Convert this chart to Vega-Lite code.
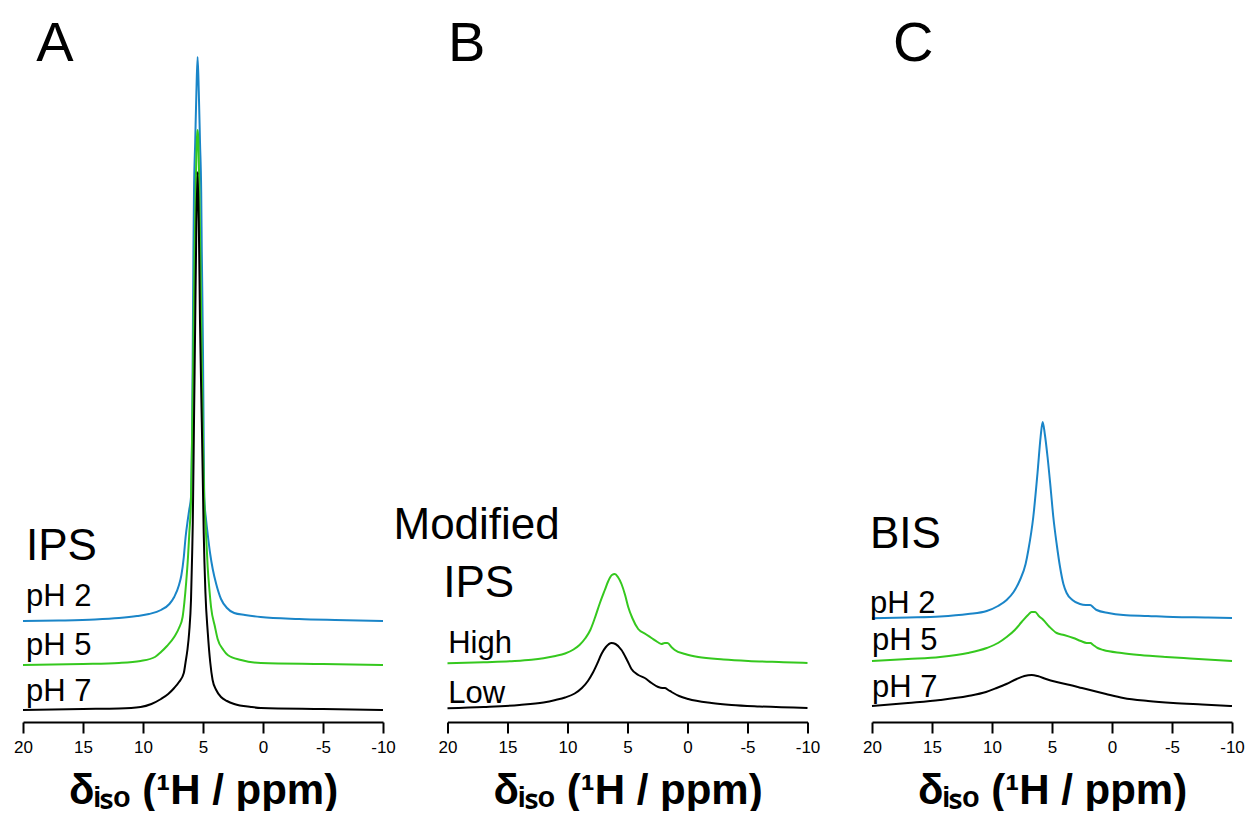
{
  "$schema": "https://vega.github.io/schema/vega-lite/v6.json",
  "background": "white",
  "padding": {"left": 13, "top": 0, "right": 5, "bottom": 0},
  "bounds": "flush",
  "spacing": 64.5,
  "config": {"view": {"stroke": null}},
  "datasets": {
    "spectra": [
      {"panel":"A","series":"pH 2","ppm":20,"intensity":101},{"panel":"A","series":"pH 2","ppm":17,"intensity":101.5},{"panel":"A","series":"pH 2","ppm":14,"intensity":102.5},{"panel":"A","series":"pH 2","ppm":12,"intensity":104},{"panel":"A","series":"pH 2","ppm":10.5,"intensity":106},{"panel":"A","series":"pH 2","ppm":9.5,"intensity":108},{"panel":"A","series":"pH 2","ppm":8.5,"intensity":112},{"panel":"A","series":"pH 2","ppm":7.8,"intensity":118},{"panel":"A","series":"pH 2","ppm":7.4,"intensity":125},{"panel":"A","series":"pH 2","ppm":7.0,"intensity":137},{"panel":"A","series":"pH 2","ppm":6.8,"intensity":147},{"panel":"A","series":"pH 2","ppm":6.6,"intensity":165},{"panel":"A","series":"pH 2","ppm":6.45,"intensity":185},{"panel":"A","series":"pH 2","ppm":6.27,"intensity":202},{"panel":"A","series":"pH 2","ppm":6.15,"intensity":212},{"panel":"A","series":"pH 2","ppm":6.0,"intensity":225},{"panel":"A","series":"pH 2","ppm":5.9,"intensity":300},{"panel":"A","series":"pH 2","ppm":5.85,"intensity":380},{"panel":"A","series":"pH 2","ppm":5.8,"intensity":470},{"panel":"A","series":"pH 2","ppm":5.75,"intensity":530},{"panel":"A","series":"pH 2","ppm":5.65,"intensity":580},{"panel":"A","series":"pH 2","ppm":5.55,"intensity":630},{"panel":"A","series":"pH 2","ppm":5.45,"intensity":665},{"panel":"A","series":"pH 2","ppm":5.35,"intensity":630},{"panel":"A","series":"pH 2","ppm":5.25,"intensity":580},{"panel":"A","series":"pH 2","ppm":5.15,"intensity":530},{"panel":"A","series":"pH 2","ppm":5.1,"intensity":470},{"panel":"A","series":"pH 2","ppm":5.0,"intensity":370},{"panel":"A","series":"pH 2","ppm":4.95,"intensity":290},{"panel":"A","series":"pH 2","ppm":4.9,"intensity":225},{"panel":"A","series":"pH 2","ppm":4.75,"intensity":203},{"panel":"A","series":"pH 2","ppm":4.6,"intensity":187},{"panel":"A","series":"pH 2","ppm":4.4,"intensity":168},{"panel":"A","series":"pH 2","ppm":4.19,"intensity":153},{"panel":"A","series":"pH 2","ppm":3.9,"intensity":138},{"panel":"A","series":"pH 2","ppm":3.5,"intensity":123},{"panel":"A","series":"pH 2","ppm":3.0,"intensity":114},{"panel":"A","series":"pH 2","ppm":2.4,"intensity":109},{"panel":"A","series":"pH 2","ppm":1.5,"intensity":107},{"panel":"A","series":"pH 2","ppm":0.2,"intensity":105},{"panel":"A","series":"pH 2","ppm":-3,"intensity":103},{"panel":"A","series":"pH 2","ppm":-6,"intensity":102},{"panel":"A","series":"pH 2","ppm":-10,"intensity":101},
      {"panel":"A","series":"pH 5","ppm":20,"intensity":57},{"panel":"A","series":"pH 5","ppm":15,"intensity":58},{"panel":"A","series":"pH 5","ppm":12,"intensity":59},{"panel":"A","series":"pH 5","ppm":10.2,"intensity":61},{"panel":"A","series":"pH 5","ppm":9,"intensity":65},{"panel":"A","series":"pH 5","ppm":8.5,"intensity":70},{"panel":"A","series":"pH 5","ppm":8.0,"intensity":76},{"panel":"A","series":"pH 5","ppm":7.4,"intensity":85},{"panel":"A","series":"pH 5","ppm":7.0,"intensity":94},{"panel":"A","series":"pH 5","ppm":6.7,"intensity":105},{"panel":"A","series":"pH 5","ppm":6.55,"intensity":120},{"panel":"A","series":"pH 5","ppm":6.4,"intensity":140},{"panel":"A","series":"pH 5","ppm":6.25,"intensity":165},{"panel":"A","series":"pH 5","ppm":6.14,"intensity":189},{"panel":"A","series":"pH 5","ppm":6.0,"intensity":222},{"panel":"A","series":"pH 5","ppm":5.9,"intensity":290},{"panel":"A","series":"pH 5","ppm":5.8,"intensity":380},{"panel":"A","series":"pH 5","ppm":5.7,"intensity":470},{"panel":"A","series":"pH 5","ppm":5.6,"intensity":540},{"panel":"A","series":"pH 5","ppm":5.5,"intensity":585},{"panel":"A","series":"pH 5","ppm":5.45,"intensity":592},{"panel":"A","series":"pH 5","ppm":5.4,"intensity":585},{"panel":"A","series":"pH 5","ppm":5.3,"intensity":530},{"panel":"A","series":"pH 5","ppm":5.2,"intensity":450},{"panel":"A","series":"pH 5","ppm":5.1,"intensity":360},{"panel":"A","series":"pH 5","ppm":5.0,"intensity":280},{"panel":"A","series":"pH 5","ppm":4.9,"intensity":225},{"panel":"A","series":"pH 5","ppm":4.75,"intensity":189},{"panel":"A","series":"pH 5","ppm":4.61,"intensity":155},{"panel":"A","series":"pH 5","ppm":4.45,"intensity":130},{"panel":"A","series":"pH 5","ppm":4.33,"intensity":115},{"panel":"A","series":"pH 5","ppm":4.0,"intensity":95},{"panel":"A","series":"pH 5","ppm":3.78,"intensity":83},{"panel":"A","series":"pH 5","ppm":3.3,"intensity":72},{"panel":"A","series":"pH 5","ppm":2.94,"intensity":67},{"panel":"A","series":"pH 5","ppm":1.83,"intensity":62},{"panel":"A","series":"pH 5","ppm":0.17,"intensity":59},{"panel":"A","series":"pH 5","ppm":-5,"intensity":58},{"panel":"A","series":"pH 5","ppm":-10,"intensity":57},
      {"panel":"A","series":"pH 7","ppm":20,"intensity":12},{"panel":"A","series":"pH 7","ppm":15,"intensity":13},{"panel":"A","series":"pH 7","ppm":12,"intensity":13.5},{"panel":"A","series":"pH 7","ppm":10.2,"intensity":15},{"panel":"A","series":"pH 7","ppm":9.3,"intensity":18},{"panel":"A","series":"pH 7","ppm":8.5,"intensity":23},{"panel":"A","series":"pH 7","ppm":7.9,"intensity":28},{"panel":"A","series":"pH 7","ppm":7.4,"intensity":34},{"panel":"A","series":"pH 7","ppm":7.0,"intensity":40},{"panel":"A","series":"pH 7","ppm":6.6,"intensity":49},{"panel":"A","series":"pH 7","ppm":6.45,"intensity":60},{"panel":"A","series":"pH 7","ppm":6.3,"intensity":72},{"panel":"A","series":"pH 7","ppm":6.15,"intensity":90},{"panel":"A","series":"pH 7","ppm":6.0,"intensity":122},{"panel":"A","series":"pH 7","ppm":5.9,"intensity":170},{"panel":"A","series":"pH 7","ppm":5.85,"intensity":200},{"panel":"A","series":"pH 7","ppm":5.75,"intensity":300},{"panel":"A","series":"pH 7","ppm":5.65,"intensity":400},{"panel":"A","series":"pH 7","ppm":5.55,"intensity":500},{"panel":"A","series":"pH 7","ppm":5.45,"intensity":550},{"panel":"A","series":"pH 7","ppm":5.35,"intensity":500},{"panel":"A","series":"pH 7","ppm":5.25,"intensity":400},{"panel":"A","series":"pH 7","ppm":5.1,"intensity":300},{"panel":"A","series":"pH 7","ppm":5.0,"intensity":230},{"panel":"A","series":"pH 7","ppm":4.94,"intensity":189},{"panel":"A","series":"pH 7","ppm":4.8,"intensity":130},{"panel":"A","series":"pH 7","ppm":4.6,"intensity":89},{"panel":"A","series":"pH 7","ppm":4.4,"intensity":60},{"panel":"A","series":"pH 7","ppm":4.2,"intensity":42},{"panel":"A","series":"pH 7","ppm":3.9,"intensity":32},{"panel":"A","series":"pH 7","ppm":3.5,"intensity":25},{"panel":"A","series":"pH 7","ppm":3.0,"intensity":21},{"panel":"A","series":"pH 7","ppm":2.4,"intensity":18},{"panel":"A","series":"pH 7","ppm":1.0,"intensity":15},{"panel":"A","series":"pH 7","ppm":0.17,"intensity":14},{"panel":"A","series":"pH 7","ppm":-5,"intensity":13},{"panel":"A","series":"pH 7","ppm":-10,"intensity":12},
      {"panel":"B","series":"High","ppm":20,"intensity":58.7},{"panel":"B","series":"High","ppm":17,"intensity":59.8},{"panel":"B","series":"High","ppm":14.4,"intensity":61},{"panel":"B","series":"High","ppm":13,"intensity":62.3},{"panel":"B","series":"High","ppm":12,"intensity":63.8},{"panel":"B","series":"High","ppm":11,"intensity":66},{"panel":"B","series":"High","ppm":10.2,"intensity":68.5},{"panel":"B","series":"High","ppm":9.5,"intensity":72.5},{"panel":"B","series":"High","ppm":9.0,"intensity":77},{"panel":"B","series":"High","ppm":8.5,"intensity":84},{"panel":"B","series":"High","ppm":8.1,"intensity":92},{"panel":"B","series":"High","ppm":7.72,"intensity":104},{"panel":"B","series":"High","ppm":7.3,"intensity":119},{"panel":"B","series":"High","ppm":6.89,"intensity":132},{"panel":"B","series":"High","ppm":6.6,"intensity":141},{"panel":"B","series":"High","ppm":6.3,"intensity":147},{"panel":"B","series":"High","ppm":6.06,"intensity":148},{"panel":"B","series":"High","ppm":5.8,"intensity":145},{"panel":"B","series":"High","ppm":5.5,"intensity":138},{"panel":"B","series":"High","ppm":5.2,"intensity":127},{"panel":"B","series":"High","ppm":4.94,"intensity":115},{"panel":"B","series":"High","ppm":4.6,"intensity":104},{"panel":"B","series":"High","ppm":4.11,"intensity":93},{"panel":"B","series":"High","ppm":3.5,"intensity":88},{"panel":"B","series":"High","ppm":3.0,"intensity":84},{"panel":"B","series":"High","ppm":2.5,"intensity":80},{"panel":"B","series":"High","ppm":2.17,"intensity":78},{"panel":"B","series":"High","ppm":1.9,"intensity":79},{"panel":"B","series":"High","ppm":1.67,"intensity":79},{"panel":"B","series":"High","ppm":1.3,"intensity":74.5},{"panel":"B","series":"High","ppm":1.06,"intensity":72},{"panel":"B","series":"High","ppm":0.2,"intensity":68},{"panel":"B","series":"High","ppm":-0.89,"intensity":65},{"panel":"B","series":"High","ppm":-3,"intensity":62.5},{"panel":"B","series":"High","ppm":-5.06,"intensity":61},{"panel":"B","series":"High","ppm":-8,"intensity":59.8},{"panel":"B","series":"High","ppm":-10,"intensity":59},
      {"panel":"B","series":"Low","ppm":20,"intensity":13.7},{"panel":"B","series":"Low","ppm":17,"intensity":15},{"panel":"B","series":"Low","ppm":14,"intensity":17},{"panel":"B","series":"Low","ppm":12,"intensity":19.5},{"panel":"B","series":"Low","ppm":11,"intensity":22},{"panel":"B","series":"Low","ppm":10.2,"intensity":24.5},{"panel":"B","series":"Low","ppm":9.4,"intensity":28.5},{"panel":"B","series":"Low","ppm":8.8,"intensity":34},{"panel":"B","series":"Low","ppm":8.3,"intensity":41},{"panel":"B","series":"Low","ppm":7.9,"intensity":49},{"panel":"B","series":"Low","ppm":7.5,"intensity":59},{"panel":"B","series":"Low","ppm":7.17,"intensity":68},{"panel":"B","series":"Low","ppm":6.8,"intensity":75},{"panel":"B","series":"Low","ppm":6.33,"intensity":79},{"panel":"B","series":"Low","ppm":6.0,"intensity":78},{"panel":"B","series":"Low","ppm":5.5,"intensity":72},{"panel":"B","series":"Low","ppm":5.0,"intensity":61},{"panel":"B","series":"Low","ppm":4.67,"intensity":53},{"panel":"B","series":"Low","ppm":4.1,"intensity":47},{"panel":"B","series":"Low","ppm":3.56,"intensity":44},{"panel":"B","series":"Low","ppm":3.0,"intensity":39},{"panel":"B","series":"Low","ppm":2.44,"intensity":35},{"panel":"B","series":"Low","ppm":2.1,"intensity":34},{"panel":"B","series":"Low","ppm":1.89,"intensity":34},{"panel":"B","series":"Low","ppm":1.6,"intensity":32},{"panel":"B","series":"Low","ppm":1.33,"intensity":30},{"panel":"B","series":"Low","ppm":0.7,"intensity":26},{"panel":"B","series":"Low","ppm":-0.06,"intensity":23},{"panel":"B","series":"Low","ppm":-2,"intensity":19},{"panel":"B","series":"Low","ppm":-3.67,"intensity":17},{"panel":"B","series":"Low","ppm":-6,"intensity":15.5},{"panel":"B","series":"Low","ppm":-10,"intensity":14},
      {"panel":"C","series":"pH 2","ppm":20,"intensity":103.7},{"panel":"C","series":"pH 2","ppm":17,"intensity":104.5},{"panel":"C","series":"pH 2","ppm":14.33,"intensity":105.5},{"panel":"C","series":"pH 2","ppm":12,"intensity":108},{"panel":"C","series":"pH 2","ppm":10.44,"intensity":111},{"panel":"C","series":"pH 2","ppm":9.5,"intensity":116},{"panel":"C","series":"pH 2","ppm":8.78,"intensity":122},{"panel":"C","series":"pH 2","ppm":8.2,"intensity":130},{"panel":"C","series":"pH 2","ppm":7.67,"intensity":142},{"panel":"C","series":"pH 2","ppm":7.2,"intensity":158},{"panel":"C","series":"pH 2","ppm":6.97,"intensity":172},{"panel":"C","series":"pH 2","ppm":6.56,"intensity":205},{"panel":"C","series":"pH 2","ppm":6.2,"intensity":250},{"panel":"C","series":"pH 2","ppm":5.95,"intensity":285},{"panel":"C","series":"pH 2","ppm":5.78,"intensity":300},{"panel":"C","series":"pH 2","ppm":5.6,"intensity":288},{"panel":"C","series":"pH 2","ppm":5.37,"intensity":265},{"panel":"C","series":"pH 2","ppm":5.1,"intensity":232},{"panel":"C","series":"pH 2","ppm":4.89,"intensity":205},{"panel":"C","series":"pH 2","ppm":4.6,"intensity":177},{"panel":"C","series":"pH 2","ppm":4.33,"intensity":155},{"panel":"C","series":"pH 2","ppm":4.05,"intensity":138},{"panel":"C","series":"pH 2","ppm":3.78,"intensity":129},{"panel":"C","series":"pH 2","ppm":3.3,"intensity":122},{"panel":"C","series":"pH 2","ppm":2.67,"intensity":118},{"panel":"C","series":"pH 2","ppm":2.2,"intensity":117},{"panel":"C","series":"pH 2","ppm":1.83,"intensity":117},{"panel":"C","series":"pH 2","ppm":1.5,"intensity":114},{"panel":"C","series":"pH 2","ppm":1.28,"intensity":112},{"panel":"C","series":"pH 2","ppm":0.3,"intensity":109},{"panel":"C","series":"pH 2","ppm":-0.94,"intensity":107},{"panel":"C","series":"pH 2","ppm":-3,"intensity":106},{"panel":"C","series":"pH 2","ppm":-5.1,"intensity":105},{"panel":"C","series":"pH 2","ppm":-8,"intensity":104.5},{"panel":"C","series":"pH 2","ppm":-10,"intensity":104},
      {"panel":"C","series":"pH 5","ppm":20,"intensity":61},{"panel":"C","series":"pH 5","ppm":17,"intensity":63},{"panel":"C","series":"pH 5","ppm":14.33,"intensity":65},{"panel":"C","series":"pH 5","ppm":12,"intensity":69},{"panel":"C","series":"pH 5","ppm":10.44,"intensity":74},{"panel":"C","series":"pH 5","ppm":9.5,"intensity":79},{"panel":"C","series":"pH 5","ppm":8.78,"intensity":85},{"panel":"C","series":"pH 5","ppm":8.1,"intensity":92},{"panel":"C","series":"pH 5","ppm":7.53,"intensity":100},{"panel":"C","series":"pH 5","ppm":7.0,"intensity":107},{"panel":"C","series":"pH 5","ppm":6.7,"intensity":110},{"panel":"C","series":"pH 5","ppm":6.4,"intensity":110},{"panel":"C","series":"pH 5","ppm":6.1,"intensity":106},{"panel":"C","series":"pH 5","ppm":5.72,"intensity":102},{"panel":"C","series":"pH 5","ppm":5.2,"intensity":95},{"panel":"C","series":"pH 5","ppm":4.61,"intensity":89},{"panel":"C","series":"pH 5","ppm":4.0,"intensity":87},{"panel":"C","series":"pH 5","ppm":3.22,"intensity":84},{"panel":"C","series":"pH 5","ppm":2.6,"intensity":81},{"panel":"C","series":"pH 5","ppm":2.11,"intensity":79},{"panel":"C","series":"pH 5","ppm":1.8,"intensity":79},{"panel":"C","series":"pH 5","ppm":1.56,"intensity":77},{"panel":"C","series":"pH 5","ppm":1.2,"intensity":74},{"panel":"C","series":"pH 5","ppm":0.72,"intensity":72},{"panel":"C","series":"pH 5","ppm":-0.8,"intensity":69},{"panel":"C","series":"pH 5","ppm":-2.33,"intensity":67},{"panel":"C","series":"pH 5","ppm":-4.5,"intensity":65},{"panel":"C","series":"pH 5","ppm":-6.5,"intensity":63.5},{"panel":"C","series":"pH 5","ppm":-10,"intensity":61},
      {"panel":"C","series":"pH 7","ppm":20,"intensity":16},{"panel":"C","series":"pH 7","ppm":17,"intensity":19},{"panel":"C","series":"pH 7","ppm":14.33,"intensity":22},{"panel":"C","series":"pH 7","ppm":12,"intensity":26},{"panel":"C","series":"pH 7","ppm":10.5,"intensity":30},{"panel":"C","series":"pH 7","ppm":9.61,"intensity":34},{"panel":"C","series":"pH 7","ppm":8.8,"intensity":38},{"panel":"C","series":"pH 7","ppm":7.94,"intensity":43},{"panel":"C","series":"pH 7","ppm":7.3,"intensity":46},{"panel":"C","series":"pH 7","ppm":6.69,"intensity":47},{"panel":"C","series":"pH 7","ppm":6.2,"intensity":46},{"panel":"C","series":"pH 7","ppm":5.5,"intensity":43},{"panel":"C","series":"pH 7","ppm":4.61,"intensity":40},{"panel":"C","series":"pH 7","ppm":3.5,"intensity":37},{"panel":"C","series":"pH 7","ppm":2.5,"intensity":34},{"panel":"C","series":"pH 7","ppm":1.83,"intensity":32},{"panel":"C","series":"pH 7","ppm":0.5,"intensity":28},{"panel":"C","series":"pH 7","ppm":-0.94,"intensity":24},{"panel":"C","series":"pH 7","ppm":-3,"intensity":21},{"panel":"C","series":"pH 7","ppm":-5.1,"intensity":19},{"panel":"C","series":"pH 7","ppm":-7.5,"intensity":17.5},{"panel":"C","series":"pH 7","ppm":-10,"intensity":16}
    ],
    "labels": [
      {"panel":"A","label":"A","ppm":18.9,"intensity":661,"kind":"letter"},
      {"panel":"A","label":"IPS","ppm":19.75,"intensity":162,"kind":"head"},
      {"panel":"A","label":"pH 2","ppm":19.75,"intensity":116,"kind":"sample"},
      {"panel":"A","label":"pH 5","ppm":19.75,"intensity":67,"kind":"sample"},
      {"panel":"A","label":"pH 7","ppm":19.75,"intensity":21,"kind":"sample"},
      {"panel":"B","label":"B","ppm":19.95,"intensity":661,"kind":"letter"},
      {"panel":"B","label":"Modified","ppm":24.5,"intensity":183,"kind":"head"},
      {"panel":"B","label":"IPS","ppm":20.36,"intensity":125,"kind":"head"},
      {"panel":"B","label":"High","ppm":19.94,"intensity":69,"kind":"sample"},
      {"panel":"B","label":"Low","ppm":19.94,"intensity":19,"kind":"sample"},
      {"panel":"C","label":"C","ppm":18.25,"intensity":661,"kind":"letter"},
      {"panel":"C","label":"BIS","ppm":20.17,"intensity":174,"kind":"head"},
      {"panel":"C","label":"pH 2","ppm":20.17,"intensity":109,"kind":"sample"},
      {"panel":"C","label":"pH 5","ppm":20.0,"intensity":72,"kind":"sample"},
      {"panel":"C","label":"pH 7","ppm":20.0,"intensity":25,"kind":"sample"}
    ]
  },
  "hconcat": [
    {
      "width": 360, "height": 722,
      "layer": [
        {
          "data": {"name": "spectra"},
          "transform": [{"filter": "datum.panel === 'A'"}],
          "mark": {"type": "line", "strokeWidth": 2, "interpolate": "monotone"},
          "encoding": {
            "x": {"field": "ppm", "type": "quantitative", "scale": {"domain": [-10, 20], "reverse": true, "nice": false, "zero": false},
              "axis": {"values": [20,17.5,15,12.5,10,7.5,5,2.5,0,-2.5,-5,-7.5,-10], "labelExpr": "datum.value % 5 === 0 ? '' + datum.value : ''", "labelOverlap": false, "labelFlush": false, "grid": false,
                "tickSize": {"condition": {"test": "datum.value % 5 === 0", "value": 11}, "value": 6},
                "domainColor": "#000", "domainWidth": 2, "tickColor": "#000", "tickWidth": 2,
                "labelFont": "Liberation Sans", "labelFontSize": 17, "labelColor": "#000", "labelPadding": 6,
                "title": "δᵢₛₒ (¹H / ppm)", "titleFont": "Liberation Sans", "titleFontSize": 42, "titleFontWeight": "bold", "titleColor": "#000", "titlePadding": 15}},
            "y": {"field": "intensity", "type": "quantitative", "scale": {"domain": [0, 722], "nice": false, "zero": false}, "axis": null},
            "color": {"field": "series", "type": "nominal", "scale": {"domain": ["pH 2", "pH 5", "pH 7", "High", "Low"], "range": ["#1a85c8", "#35c81e", "#000000", "#35c81e", "#000000"]}, "legend": null}
          }
        },
        {
          "data": {"name": "labels"},
          "transform": [{"filter": "datum.panel === 'A' && datum.kind === 'letter'"}],
          "mark": {"type": "text", "align": "left", "baseline": "alphabetic", "font": "Liberation Sans", "color": "#000", "fontSize": 56},
          "encoding": {"x": {"field": "ppm", "type": "quantitative"}, "y": {"field": "intensity", "type": "quantitative"}, "text": {"field": "label"}}
        },
        {
          "data": {"name": "labels"},
          "transform": [{"filter": "datum.panel === 'A' && datum.kind === 'head'"}],
          "mark": {"type": "text", "align": "left", "baseline": "alphabetic", "font": "Liberation Sans", "color": "#000", "fontSize": 44},
          "encoding": {"x": {"field": "ppm", "type": "quantitative"}, "y": {"field": "intensity", "type": "quantitative"}, "text": {"field": "label"}}
        },
        {
          "data": {"name": "labels"},
          "transform": [{"filter": "datum.panel === 'A' && datum.kind === 'sample'"}],
          "mark": {"type": "text", "align": "left", "baseline": "alphabetic", "font": "Liberation Sans", "color": "#000", "fontSize": 31},
          "encoding": {"x": {"field": "ppm", "type": "quantitative"}, "y": {"field": "intensity", "type": "quantitative"}, "text": {"field": "label"}}
        }
      ]
    },
    {
      "width": 360, "height": 722,
      "layer": [
        {
          "data": {"name": "spectra"},
          "transform": [{"filter": "datum.panel === 'B'"}],
          "mark": {"type": "line", "strokeWidth": 2, "interpolate": "monotone"},
          "encoding": {
            "x": {"field": "ppm", "type": "quantitative", "scale": {"domain": [-10, 20], "reverse": true, "nice": false, "zero": false},
              "axis": {"values": [20,17.5,15,12.5,10,7.5,5,2.5,0,-2.5,-5,-7.5,-10], "labelExpr": "datum.value % 5 === 0 ? '' + datum.value : ''", "labelOverlap": false, "labelFlush": false, "grid": false,
                "tickSize": {"condition": {"test": "datum.value % 5 === 0", "value": 11}, "value": 6},
                "domainColor": "#000", "domainWidth": 2, "tickColor": "#000", "tickWidth": 2,
                "labelFont": "Liberation Sans", "labelFontSize": 17, "labelColor": "#000", "labelPadding": 6,
                "title": "δᵢₛₒ (¹H / ppm)", "titleFont": "Liberation Sans", "titleFontSize": 42, "titleFontWeight": "bold", "titleColor": "#000", "titlePadding": 15}},
            "y": {"field": "intensity", "type": "quantitative", "scale": {"domain": [0, 722], "nice": false, "zero": false}, "axis": null},
            "color": {"field": "series", "type": "nominal", "scale": {"domain": ["pH 2", "pH 5", "pH 7", "High", "Low"], "range": ["#1a85c8", "#35c81e", "#000000", "#35c81e", "#000000"]}, "legend": null}
          }
        },
        {
          "data": {"name": "labels"},
          "transform": [{"filter": "datum.panel === 'B' && datum.kind === 'letter'"}],
          "mark": {"type": "text", "align": "left", "baseline": "alphabetic", "font": "Liberation Sans", "color": "#000", "fontSize": 56},
          "encoding": {"x": {"field": "ppm", "type": "quantitative"}, "y": {"field": "intensity", "type": "quantitative"}, "text": {"field": "label"}}
        },
        {
          "data": {"name": "labels"},
          "transform": [{"filter": "datum.panel === 'B' && datum.kind === 'head'"}],
          "mark": {"type": "text", "align": "left", "baseline": "alphabetic", "font": "Liberation Sans", "color": "#000", "fontSize": 44},
          "encoding": {"x": {"field": "ppm", "type": "quantitative"}, "y": {"field": "intensity", "type": "quantitative"}, "text": {"field": "label"}}
        },
        {
          "data": {"name": "labels"},
          "transform": [{"filter": "datum.panel === 'B' && datum.kind === 'sample'"}],
          "mark": {"type": "text", "align": "left", "baseline": "alphabetic", "font": "Liberation Sans", "color": "#000", "fontSize": 31},
          "encoding": {"x": {"field": "ppm", "type": "quantitative"}, "y": {"field": "intensity", "type": "quantitative"}, "text": {"field": "label"}}
        }
      ]
    },
    {
      "width": 360, "height": 722,
      "layer": [
        {
          "data": {"name": "spectra"},
          "transform": [{"filter": "datum.panel === 'C'"}],
          "mark": {"type": "line", "strokeWidth": 2, "interpolate": "monotone"},
          "encoding": {
            "x": {"field": "ppm", "type": "quantitative", "scale": {"domain": [-10, 20], "reverse": true, "nice": false, "zero": false},
              "axis": {"values": [20,17.5,15,12.5,10,7.5,5,2.5,0,-2.5,-5,-7.5,-10], "labelExpr": "datum.value % 5 === 0 ? '' + datum.value : ''", "labelOverlap": false, "labelFlush": false, "grid": false,
                "tickSize": {"condition": {"test": "datum.value % 5 === 0", "value": 11}, "value": 6},
                "domainColor": "#000", "domainWidth": 2, "tickColor": "#000", "tickWidth": 2,
                "labelFont": "Liberation Sans", "labelFontSize": 17, "labelColor": "#000", "labelPadding": 6,
                "title": "δᵢₛₒ (¹H / ppm)", "titleFont": "Liberation Sans", "titleFontSize": 42, "titleFontWeight": "bold", "titleColor": "#000", "titlePadding": 15}},
            "y": {"field": "intensity", "type": "quantitative", "scale": {"domain": [0, 722], "nice": false, "zero": false}, "axis": null},
            "color": {"field": "series", "type": "nominal", "scale": {"domain": ["pH 2", "pH 5", "pH 7", "High", "Low"], "range": ["#1a85c8", "#35c81e", "#000000", "#35c81e", "#000000"]}, "legend": null}
          }
        },
        {
          "data": {"name": "labels"},
          "transform": [{"filter": "datum.panel === 'C' && datum.kind === 'letter'"}],
          "mark": {"type": "text", "align": "left", "baseline": "alphabetic", "font": "Liberation Sans", "color": "#000", "fontSize": 56},
          "encoding": {"x": {"field": "ppm", "type": "quantitative"}, "y": {"field": "intensity", "type": "quantitative"}, "text": {"field": "label"}}
        },
        {
          "data": {"name": "labels"},
          "transform": [{"filter": "datum.panel === 'C' && datum.kind === 'head'"}],
          "mark": {"type": "text", "align": "left", "baseline": "alphabetic", "font": "Liberation Sans", "color": "#000", "fontSize": 44},
          "encoding": {"x": {"field": "ppm", "type": "quantitative"}, "y": {"field": "intensity", "type": "quantitative"}, "text": {"field": "label"}}
        },
        {
          "data": {"name": "labels"},
          "transform": [{"filter": "datum.panel === 'C' && datum.kind === 'sample'"}],
          "mark": {"type": "text", "align": "left", "baseline": "alphabetic", "font": "Liberation Sans", "color": "#000", "fontSize": 31},
          "encoding": {"x": {"field": "ppm", "type": "quantitative"}, "y": {"field": "intensity", "type": "quantitative"}, "text": {"field": "label"}}
        }
      ]
    }
  ]
}
